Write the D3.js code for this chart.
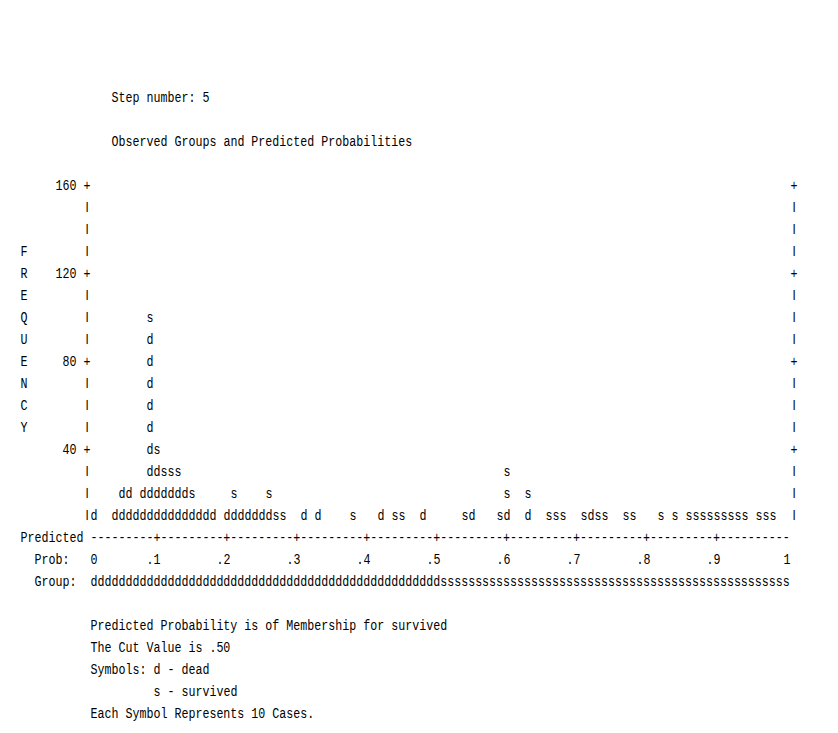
<!DOCTYPE html>
<html><head><meta charset="utf-8">
<script src="https://cdn.jsdelivr.net/npm/d3@7"></script>
<style>html,body{margin:0;padding:0;background:#fff;} svg{display:block;} text{white-space:pre;}</style>
</head><body>
<svg id="chart" width="838" height="733"></svg>
<script>
// ---------- data ----------
const headerLines = ["Step number: 5", "Observed Groups and Predicted Probabilities"];
const axisTitle = "FREQUENCY";
const freqTicks = [40, 80, 120, 160];
const freqMax = 160;
const probTicks = [0, 0.1, 0.2, 0.3, 0.4, 0.5, 0.6, 0.7, 0.8, 0.9, 1];
const probTickLabels = ["0", ".1", ".2", ".3", ".4", ".5", ".6", ".7", ".8", ".9", "1"];
const cutValue = 0.5;
const casesPerSymbol = 10;
const groupSymbols = ["d", "s"];           // dead, survived
// probability bins (width .01, index = floor(p*100)) and number of symbols
const deadBins    = [0,3,4,5,6,7,8,9,10,11,12,13,14,15,16,17,19,20,21,22,23,24,25,30,32,41,47,54,59,62,71];
const deadSymbols = [1,1,2,2,1,2,9,3,2,2,2,2,1,1,1,1,1,1,1,1,1,1,1,1,1,1,1,1,1,1,1];
const survivedBins    = [8,9,10,11,12,14,20,25,26,27,37,43,44,53,58,59,62,65,66,67,70,72,73,76,77,81,83,85,86,87,88,89,90,91,92,93,95,96,97];
const survivedSymbols = [1,1,1,1,1,1,1,1,1,1,1,1,1,1,1,2,1,1,1,1,1,1,1,1,1,1,1,1,1,1,1,1,1,1,1,1,1,1,1];
const footerLines = [
  "Predicted Probability is of Membership for survived",
  "The Cut Value is .50",
  "Symbols: d - dead",
  "s - survived",
  "Each Symbol Represents 10 Cases."
];

// ---------- layout ----------
const svg = d3.select("#chart");
svg.append("rect").attr("width", 838).attr("height", 733).attr("fill", "#fff");
const CW = 7, X0 = 20.5, LH = 22, Y0 = 97, BASE = 5;
const FS = CW / 0.6;          // monospace advance = 0.6em -> 7px per column
const VSCALE = 15 / FS;       // tall, narrow glyphs like the reference
const MONO = "'Liberation Mono', 'DejaVu Sans Mono', monospace";
const SANS = "'Liberation Sans', Arial, sans-serif";
const colX = c => X0 + CW * c;
const rowY = k => Y0 + LH * k;

const x = d3.scaleLinear().domain([0, 1]).range([colX(10), colX(110)]);
const y = d3.scaleLinear().domain([casesPerSymbol, freqMax]).range([rowY(19), rowY(4)]);

const g = svg.append("g").attr("fill", "#000");

function txt(str, xLeft, yc) {
  return g.append("text")
    .attr("transform", `translate(${xLeft},${yc + BASE}) scale(1,${VSCALE})`)
    .attr("font-family", MONO).attr("font-size", FS)
    .text(str);
}
function bar(xLeft, yc) {
  return g.append("text")
    .attr("transform", `translate(${xLeft + CW / 2},${yc + BASE}) scale(1,${VSCALE})`)
    .attr("text-anchor", "middle")
    .attr("font-family", SANS).attr("font-size", FS)
    .text("I");
}

// header
txt(headerLines[0], colX(13), rowY(0));
txt(headerLines[1], colX(13), rowY(2));

// vertical axis title
axisTitle.split("").forEach((ch, i) => txt(ch, colX(0), rowY(7 + i)));

// frequency rows: borders and tick labels
d3.range(casesPerSymbol, freqMax + 1, casesPerSymbol).forEach(level => {
  const yc = y(level);
  if (freqTicks.includes(level)) {
    txt("+", x(0) - CW, yc);
    txt("+", x(1), yc);
    const lab = String(level);
    txt(lab, x(0) - CW * (lab.length + 2), yc);
  } else {
    bar(x(0) - CW, yc);
    bar(x(1), yc);
  }
});

// symbols: stack dead first, survived on top, in each probability bin
const binW = 0.01;
const cells = [];   // {bin, level, sym}
deadBins.forEach((b, i) => {
  for (let j = 0; j < deadSymbols[i]; j++) cells.push({ bin: b, level: (j + 1) * casesPerSymbol, sym: groupSymbols[0] });
});
survivedBins.forEach((b, i) => {
  const di = deadBins.indexOf(b);
  const base = di >= 0 ? deadSymbols[di] : 0;
  for (let j = 0; j < survivedSymbols[i]; j++) cells.push({ bin: b, level: (base + j + 1) * casesPerSymbol, sym: groupSymbols[1] });
});
// join adjacent bins of one row into a run of text
d3.groups(cells, c => c.level).forEach(([level, row]) => {
  row.sort((a, b) => a.bin - b.bin);
  let run = null;
  const runs = [];
  row.forEach(c => {
    if (run && c.bin === run.end + 1) { run.str += c.sym; run.end = c.bin; }
    else { run = { start: c.bin, end: c.bin, str: c.sym }; runs.push(run); }
  });
  runs.forEach(r => txt(r.str, x(r.start * binW), y(level)).attr("class", "mark"));
});

// predicted axis line
const nBins = Math.round(1 / binW);
let axisStr = "";
for (let b = 0; b < nBins; b++) {
  const right = (b + 1) * binW;
  const isTick = probTicks.some(t => t > 0 && t < 1 && Math.abs(t - right) < 1e-9);
  axisStr += isTick ? "+" : "-";
}
txt("Predicted", colX(0), rowY(20));
txt(axisStr, x(0), rowY(20));

// prob labels
txt("Prob:", colX(2), rowY(21));
probTicks.forEach((t, i) => {
  const lab = probTickLabels[i];
  const left = t === 0 ? x(0) : x(t) - CW * lab.length;
  txt(lab, left, rowY(21));
});

// group line
txt("Group:", colX(2), rowY(22));
let groupStr = "";
for (let b = 0; b < nBins; b++) groupStr += ((b + 0.5) * binW < cutValue) ? groupSymbols[0] : groupSymbols[1];
txt(groupStr, x(0), rowY(22));

// footer
txt(footerLines[0], colX(10), rowY(24));
txt(footerLines[1], colX(10), rowY(25));
txt(footerLines[2], colX(10), rowY(26));
txt(footerLines[3], colX(19), rowY(27));
txt(footerLines[4], colX(10), rowY(28));
</script>
</body></html>
